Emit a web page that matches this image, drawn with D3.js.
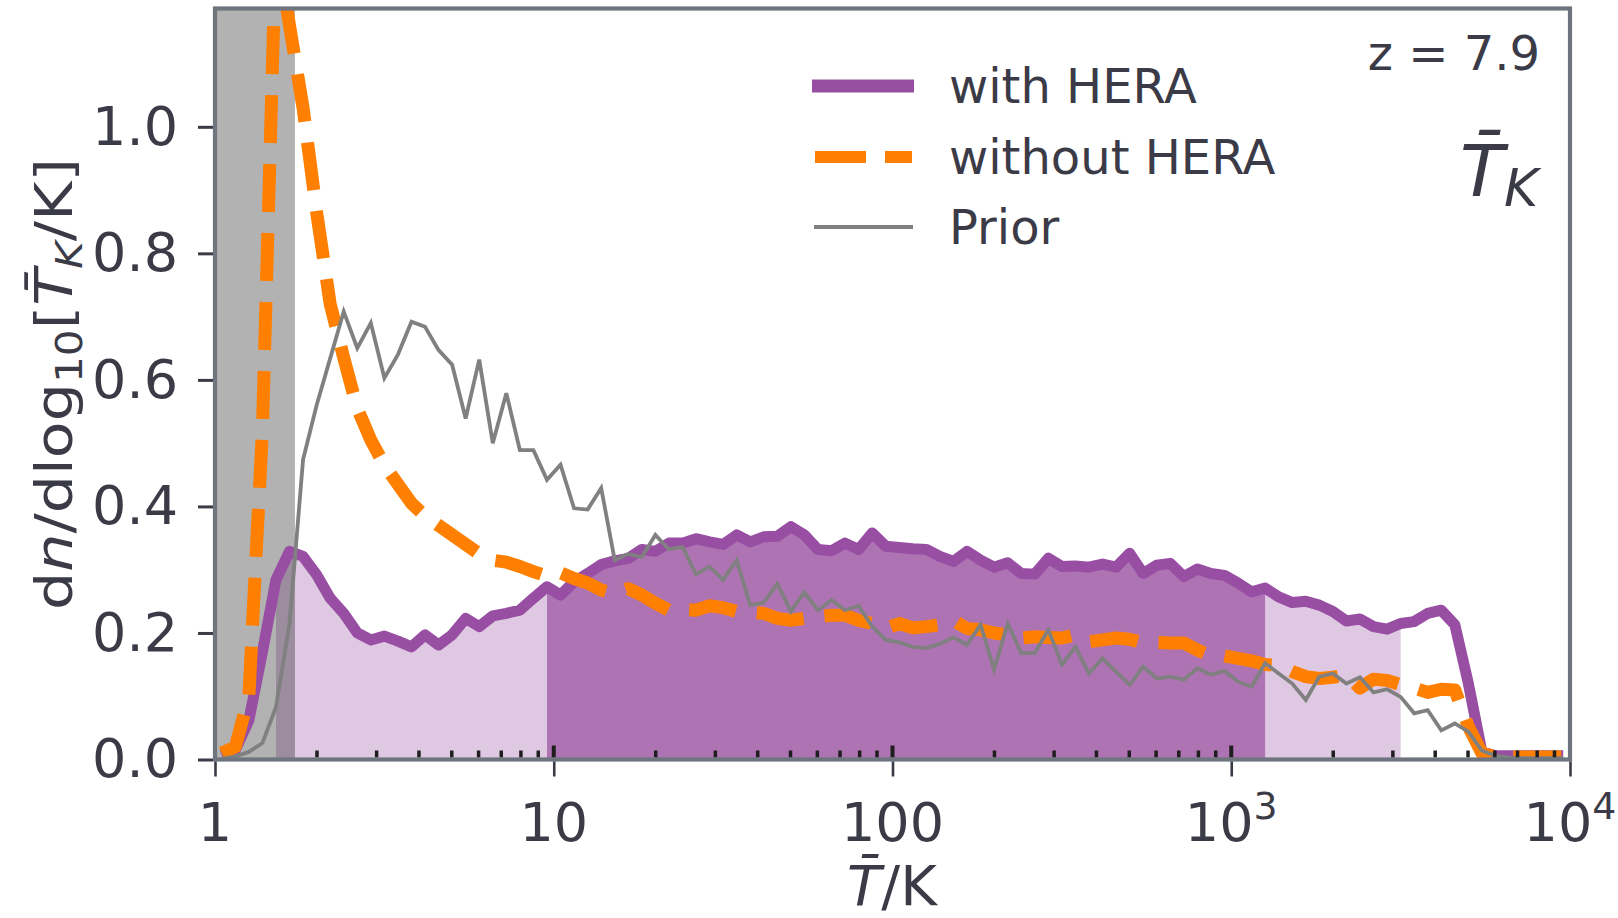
<!DOCTYPE html>
<html>
<head>
<meta charset="utf-8">
<script src="https://cdn.jsdelivr.net/npm/d3@7"></script>
<style>
  html, body { margin: 0; padding: 0; background: #fff; }
  svg { display: block; font-family: "DejaVu Sans", sans-serif; }
</style>
</head>
<body>
<svg id="chart" width="1618" height="918"></svg>
<script>
// log10 of the bin centres in temperature (K)
const logBins = [
  0.02,0.06,0.10,0.14,0.18,0.22,0.26,0.30,0.34,0.38,
  0.42,0.46,0.50,0.54,0.58,0.62,0.66,0.70,0.74,0.78,
  0.82,0.86,0.90,0.94,0.98,1.02,1.06,1.10,1.14,1.18,
  1.22,1.26,1.30,1.34,1.38,1.42,1.46,1.50,1.54,1.58,
  1.62,1.66,1.70,1.74,1.78,1.82,1.86,1.90,1.94,1.98,
  2.02,2.06,2.10,2.14,2.18,2.22,2.26,2.30,2.34,2.38,
  2.42,2.46,2.50,2.54,2.58,2.62,2.66,2.70,2.74,2.78,
  2.82,2.86,2.90,2.94,2.98,3.02,3.06,3.10,3.14,3.18,
  3.22,3.26,3.30,3.34,3.38,3.42,3.46,3.50,3.54,3.58,
  3.62,3.66,3.70,3.74,3.78,3.82,3.86,3.90,3.94,3.98
];

// posterior density including HERA
const withHERA = [
  0.007,0.015,0.062,0.170,0.284,0.329,0.321,0.292,0.255,0.231,
  0.200,0.189,0.195,0.187,0.178,0.197,0.181,0.197,0.223,0.210,
  0.227,0.231,0.236,0.255,0.273,0.260,0.281,0.294,0.308,0.314,
  0.318,0.332,0.329,0.342,0.342,0.349,0.344,0.340,0.355,0.344,
  0.352,0.353,0.368,0.355,0.332,0.330,0.342,0.332,0.358,0.337,
  0.335,0.333,0.332,0.321,0.313,0.329,0.315,0.304,0.311,0.294,
  0.293,0.318,0.305,0.306,0.304,0.309,0.304,0.326,0.294,0.307,
  0.310,0.289,0.301,0.294,0.291,0.279,0.265,0.271,0.257,0.248,
  0.250,0.244,0.234,0.219,0.222,0.210,0.206,0.215,0.218,0.231,
  0.236,0.213,0.120,0.012,0.006,0.006,0.006,0.006,0.006,0.006
];

// posterior density without HERA
const withoutHERA = [
  0.010,0.020,0.100,0.520,1.300,1.160,1.030,0.865,0.720,0.635,
  0.555,0.505,0.465,0.435,0.405,0.385,0.370,0.355,0.340,0.325,
  0.315,0.312,0.305,0.297,0.290,0.295,0.286,0.279,0.268,0.262,
  0.270,0.260,0.247,0.236,0.237,0.236,0.243,0.240,0.234,0.233,
  0.231,0.223,0.220,0.223,0.226,0.228,0.228,0.220,0.215,0.207,
  0.215,0.208,0.210,0.213,0.220,0.207,0.205,0.200,0.197,0.192,
  0.194,0.193,0.192,0.197,0.186,0.189,0.192,0.190,0.184,0.185,
  0.184,0.184,0.173,0.164,0.164,0.160,0.156,0.150,0.149,0.139,
  0.131,0.128,0.130,0.134,0.113,0.127,0.125,0.118,0.113,0.106,
  0.111,0.110,0.052,0.010,0.004,0.004,0.004,0.004,0.004,0.004
];

// prior density
const prior = [
  0.001,0.005,0.012,0.026,0.083,0.215,0.474,0.560,0.634,0.708,
  0.650,0.690,0.603,0.640,0.692,0.684,0.647,0.624,0.539,0.632,
  0.500,0.579,0.489,0.489,0.442,0.466,0.397,0.395,0.429,0.315,
  0.325,0.320,0.355,0.332,0.336,0.293,0.305,0.284,0.315,0.244,
  0.248,0.278,0.234,0.264,0.236,0.252,0.236,0.243,0.210,0.189,
  0.185,0.178,0.176,0.183,0.193,0.181,0.213,0.142,0.215,0.168,
  0.168,0.205,0.150,0.178,0.136,0.160,0.139,0.118,0.147,0.128,
  0.131,0.126,0.144,0.134,0.140,0.123,0.115,0.152,0.136,0.120,
  0.094,0.131,0.136,0.120,0.130,0.106,0.111,0.099,0.073,0.078,
  0.046,0.057,0.044,0.014,0.006,0.003,0.002,0.002,0.002,0.002
];

// credible intervals of the HERA posterior (log10 T bounds)
const ci95 = [0.18, 3.50];
const ci68 = [0.98, 3.10];
// temperature range excluded by the prior (log10 T)
const excluded = [0.0, 0.236];

const yTicks = [0.0, 0.2, 0.4, 0.6, 0.8, 1.0];
const xMajor = [1, 10, 100, 1000, 10000];
const xMajorLabels = [["1"], ["10"], ["100"], ["10", "3"], ["10", "4"]];
const legendLabels = ["with HERA", "without HERA", "Prior"];

const C = {
  purple: "#984ea3", orange: "#ff7f00", prior: "#808080",
  fill95: "#dfc9e2", fill68: "#ad73b3",
  spine: "#6e757e", text: "#3b3b47", tick: "#3b3b47", minor: "#1e1e1e"
};

const box = { left: 215, right: 1570, top: 8.5, bottom: 759.5 };
const FS = 48;      // legend / annotation text
const FT = 54;      // tick labels

const svg = d3.select("#chart");
const x = d3.scaleLog().domain([1, 1e4]).range([box.left, box.right]);
const y = d3.scaleLinear().domain([0, 1.187]).range([box.bottom, box.top]);

const pts = arr => arr.map((v, i) => ({ t: Math.pow(10, logBins[i]), lt: logBins[i], v }));
const dWith = pts(withHERA), dWithout = pts(withoutHERA), dPrior = pts(prior);

svg.append("defs").append("clipPath").attr("id", "plotClip")
  .append("rect").attr("x", box.left).attr("y", box.top)
  .attr("width", box.right - box.left).attr("height", box.bottom - box.top);

const plot = svg.append("g").attr("clip-path", "url(#plotClip)");

// shaded credible regions under the HERA posterior
const area = d3.area().x(d => x(d.t)).y0(y(0)).y1(d => y(d.v));
const inRange = r => d => d.lt >= r[0] - 1e-6 && d.lt <= r[1] + 1e-6;
plot.append("path").datum(dWith.filter(inRange(ci95)))
  .attr("d", area).attr("fill", C.fill95);
plot.append("path").datum(dWith.filter(inRange(ci68)))
  .attr("d", area).attr("fill", C.fill68);

// band excluded by the prior
plot.append("rect")
  .attr("x", x(Math.pow(10, excluded[0])))
  .attr("width", x(Math.pow(10, excluded[1])) - x(Math.pow(10, excluded[0])))
  .attr("y", box.top).attr("height", box.bottom - box.top)
  .attr("fill", "#000").attr("fill-opacity", 0.3);

// minor x ticks (inside)
const minorVals = [];
for (let k = 0; k < 4; k++) for (let m = 2; m <= 9; m++) minorVals.push(m * Math.pow(10, k));
svg.append("g").selectAll("line").data(minorVals).join("line")
  .attr("x1", d => x(d)).attr("x2", d => x(d))
  .attr("y1", box.bottom - 2).attr("y2", box.bottom - 9)
  .attr("stroke", C.minor).attr("stroke-width", 3.5);
// major x ticks (inside part)
svg.append("g").selectAll("line").data(xMajor.slice(1, 4)).join("line")
  .attr("x1", d => x(d)).attr("x2", d => x(d))
  .attr("y1", box.bottom - 2).attr("y2", box.bottom - 14)
  .attr("stroke", C.minor).attr("stroke-width", 4);

const line = d3.line().x(d => x(d.t)).y(d => y(d.v));
plot.append("path").datum(dWith).attr("d", line)
  .attr("fill", "none").attr("stroke", C.purple).attr("stroke-width", 11)
  .attr("stroke-linejoin", "round");
plot.append("path").datum(dWithout).attr("d", line)
  .attr("fill", "none").attr("stroke", C.orange).attr("stroke-width", 13)
  .attr("stroke-dasharray", "48,21").attr("stroke-linejoin", "round");
plot.append("path").datum(dPrior).attr("d", line)
  .attr("fill", "none").attr("stroke", C.prior).attr("stroke-width", 3.8)
  .attr("stroke-linejoin", "miter");

// frame
svg.append("rect").attr("x", box.left).attr("y", box.top)
  .attr("width", box.right - box.left).attr("height", box.bottom - box.top)
  .attr("fill", "none").attr("stroke", C.spine).attr("stroke-width", 4.2);

// y axis
const yAxis = d3.axisLeft(y).tickValues(yTicks).tickSize(15).tickPadding(20)
  .tickFormat(d3.format(".1f"));
const gy = svg.append("g").attr("transform", `translate(${box.left - 2},0)`).call(yAxis);
gy.select(".domain").remove();
gy.selectAll(".tick line").attr("stroke", C.tick).attr("stroke-width", 3);
gy.selectAll(".tick text").attr("fill", C.text).attr("font-size", FT)
  .attr("font-family", "DejaVu Sans");

// x axis
const xAxis = d3.axisBottom(x).tickValues(xMajor).tickSize(15).tickFormat(() => "");
const gx = svg.append("g").attr("transform", `translate(0,${box.bottom + 2})`).call(xAxis);
gx.select(".domain").remove();
gx.selectAll(".tick line").attr("stroke", C.tick).attr("stroke-width", 2.6);
const xl = svg.append("g").selectAll("text").data(xMajor).join("text")
  .attr("x", d => x(d)).attr("y", 841).attr("text-anchor", "middle")
  .attr("fill", C.text).attr("font-size", FT);
xl.each(function(d, i) {
  const parts = xMajorLabels[i];
  const t = d3.select(this);
  t.append("tspan").text(parts[0]);
  if (parts[1]) t.append("tspan").attr("font-size", FT * 0.7).attr("dy", -22).text(parts[1]);
});

// axis titles
svg.append("text").attr("x", 892).attr("y", 905).attr("text-anchor", "middle")
  .attr("fill", C.text).attr("font-size", 56)
  .call(t => {
    t.append("tspan").attr("font-style", "italic").text("T\u0304");
    t.append("tspan").text("/K");
  });

const FY = 52;
const yl = svg.append("text").attr("transform", "translate(72,384) rotate(-90) scale(1.16,1)")
  .attr("text-anchor", "middle").attr("fill", C.text).attr("font-size", FY);
yl.append("tspan").text("d");
yl.append("tspan").attr("font-style", "italic").text("n");
yl.append("tspan").text("/dlog");
yl.append("tspan").attr("font-size", FY * 0.7).attr("dy", 10).text("10");
yl.append("tspan").attr("dy", -10).text("[");
yl.append("tspan").attr("font-style", "italic").text("T\u0304");
yl.append("tspan").attr("font-style", "italic").attr("font-size", FY * 0.7).attr("dy", 10).text("K");
yl.append("tspan").attr("dy", -10).text("/K]");

// legend
const lg = svg.append("g");
const legendY = [86, 157, 227];
lg.append("line").attr("x1", 812).attr("x2", 914).attr("y1", legendY[0]).attr("y2", legendY[0])
  .attr("stroke", C.purple).attr("stroke-width", 13);
lg.append("line").attr("x1", 815).attr("x2", 912).attr("y1", legendY[1]).attr("y2", legendY[1])
  .attr("stroke", C.orange).attr("stroke-width", 12).attr("stroke-dasharray", "51,19");
lg.append("line").attr("x1", 814).attr("x2", 913).attr("y1", legendY[2]).attr("y2", legendY[2])
  .attr("stroke", C.prior).attr("stroke-width", 4);
lg.selectAll("text").data(legendLabels).join("text")
  .attr("x", 949).attr("y", (d, i) => legendY[i] + 17)
  .attr("fill", C.text).attr("font-size", FS).text(d => d);

// panel annotations
svg.append("text").attr("x", 1540).attr("y", 70).attr("text-anchor", "end")
  .attr("fill", C.text).attr("font-size", FS).attr("xml:space", "preserve")
  .text("z = 7.9");
const tk = svg.append("text").attr("x", 1538).attr("y", 196).attr("text-anchor", "end")
  .attr("fill", C.text).attr("font-size", 72).attr("font-style", "italic");
tk.append("tspan").text("T\u0304");
tk.append("tspan").attr("font-size", 52).attr("dy", 10).text("K");
</script>
</body>
</html>
